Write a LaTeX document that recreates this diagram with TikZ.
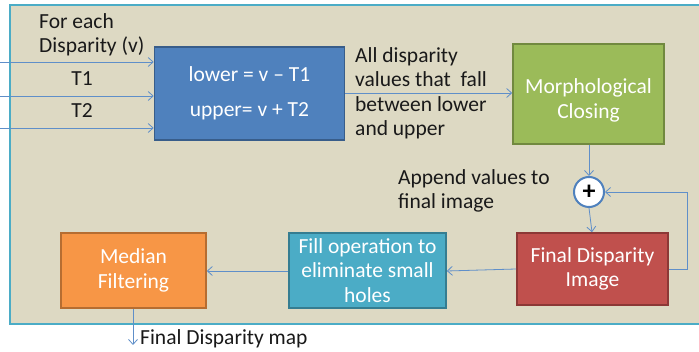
\documentclass[tikz,border=0pt]{standalone}
\usepackage{fontspec}
\setmainfont{Carlito}
\usetikzlibrary{arrows.meta}
\definecolor{panelfill}{HTML}{DDD9C3}
\definecolor{panelline}{HTML}{4BACC6}
\definecolor{flowline}{HTML}{5F8FC9}
\definecolor{bluefill}{HTML}{4F81BD}
\definecolor{blueline}{HTML}{385D8A}
\definecolor{greenfill}{HTML}{9BBB59}
\definecolor{greenline}{HTML}{71893F}
\definecolor{redfill}{HTML}{C0504D}
\definecolor{redline}{HTML}{8C3836}
\definecolor{tealfill}{HTML}{4BACC6}
\definecolor{tealline}{HTML}{357D91}
\definecolor{orangefill}{HTML}{F79646}
\definecolor{orangeline}{HTML}{B66D31}
\tikzset{
  procbox/.style={draw, line width=1.6pt, text=white, align=center,
    inner sep=0pt, font=\fontsize{21.5}{24.5}\selectfont},
  label/.style={inner sep=0pt, align=left, text=black!90,
    font=\fontsize{21.5}{24.5}\selectfont},
  flow/.style={draw=flowline, line width=0.8pt,
    -{Straight Barb[length=5pt,width=9pt,line width=0.8pt]}},
}
\begin{document}
\begin{tikzpicture}[x=1pt,y=-1pt]
\useasboundingbox (0,0) rectangle (699,352);
\clip (0,0) rectangle (699,352);
% background panel
\draw[fill=panelfill, draw=panelline, line width=1.8pt] (10,5) rectangle (712,324);

% process boxes
\node[procbox, fill=bluefill, draw=blueline, minimum width=190pt, minimum height=93pt]
  (bounds) at (249.5,93.5) {lower = v -- T1\\[10.5pt]upper= v + T2};
\node[procbox, fill=greenfill, draw=greenline, minimum width=151pt, minimum height=100pt]
  (closing) at (588.5,94) {\rule{0pt}{28pt}Morphological\\Closing};
\node[procbox, fill=redfill, draw=redline, minimum width=151pt, minimum height=72pt]
  (final) at (592.5,269) {Final Disparity\\Image};
\node[procbox, fill=tealfill, draw=tealline, minimum width=157pt, minimum height=75pt]
  (fill) at (367.5,270.5) {Fill operation to\\eliminate small\\holes};
\node[procbox, fill=orangefill, draw=orangeline, minimum width=145pt, minimum height=75pt]
  (median) at (133.5,270.5) {Median\\Filtering};
\node[circle, draw=bluefill, line width=2pt, fill=white, minimum size=30pt, inner sep=0pt,
  font=\fontsize{26}{26}\selectfont\bfseries] (plus) at (589,192) {+};

% text labels (anchored on the baseline of their last line)
\node[label, anchor=base west] (foreach) at (39,53) {For each\\Disparity (v)};
\node[label, anchor=base] (tone) at (82,86) {T1};
\node[label, anchor=base] (ttwo) at (82,118) {T2};
\node[label, anchor=base west] (between) at (355,136) {All disparity\\values that\ \ fall\\between lower\\and upper};
\node[label, anchor=base west] (append) at (398,209) {Append values to\\final image};

% inputs
\coordinate (in1) at (0,62);
\coordinate (in2) at (0,96);
\coordinate (in3) at (0,128);
\draw[flow] (in1) -- (in1 -| bounds.west);
\draw[flow] (in2) -- (in2 -| bounds.west);
\draw[flow] (in3) -- (in3 -| bounds.west);

% main flow
\draw[flow] (bounds.east |- 0,93) -- (closing.west |- 0,93);
\draw[flow] (closing.south -| plus) -- (plus.north);
\draw[flow] (plus.south) -- (final.north -| 592,0);
\coordinate (loop) at (687,269);
\draw[flow] (final.east |- loop) -- (loop) |- (plus.east);
\draw[flow] (final.west |- 0,269) -- (fill.east |- 0,271);
\draw[flow] (fill.west |- 0,271) -- (median.east |- 0,271);
\coordinate (out) at (133,345);
\draw[flow] (median.south -| out) -- (out);
\node[label, anchor=base west] (result) at (140,345) {Final Disparity map};
\end{tikzpicture}
\end{document}
